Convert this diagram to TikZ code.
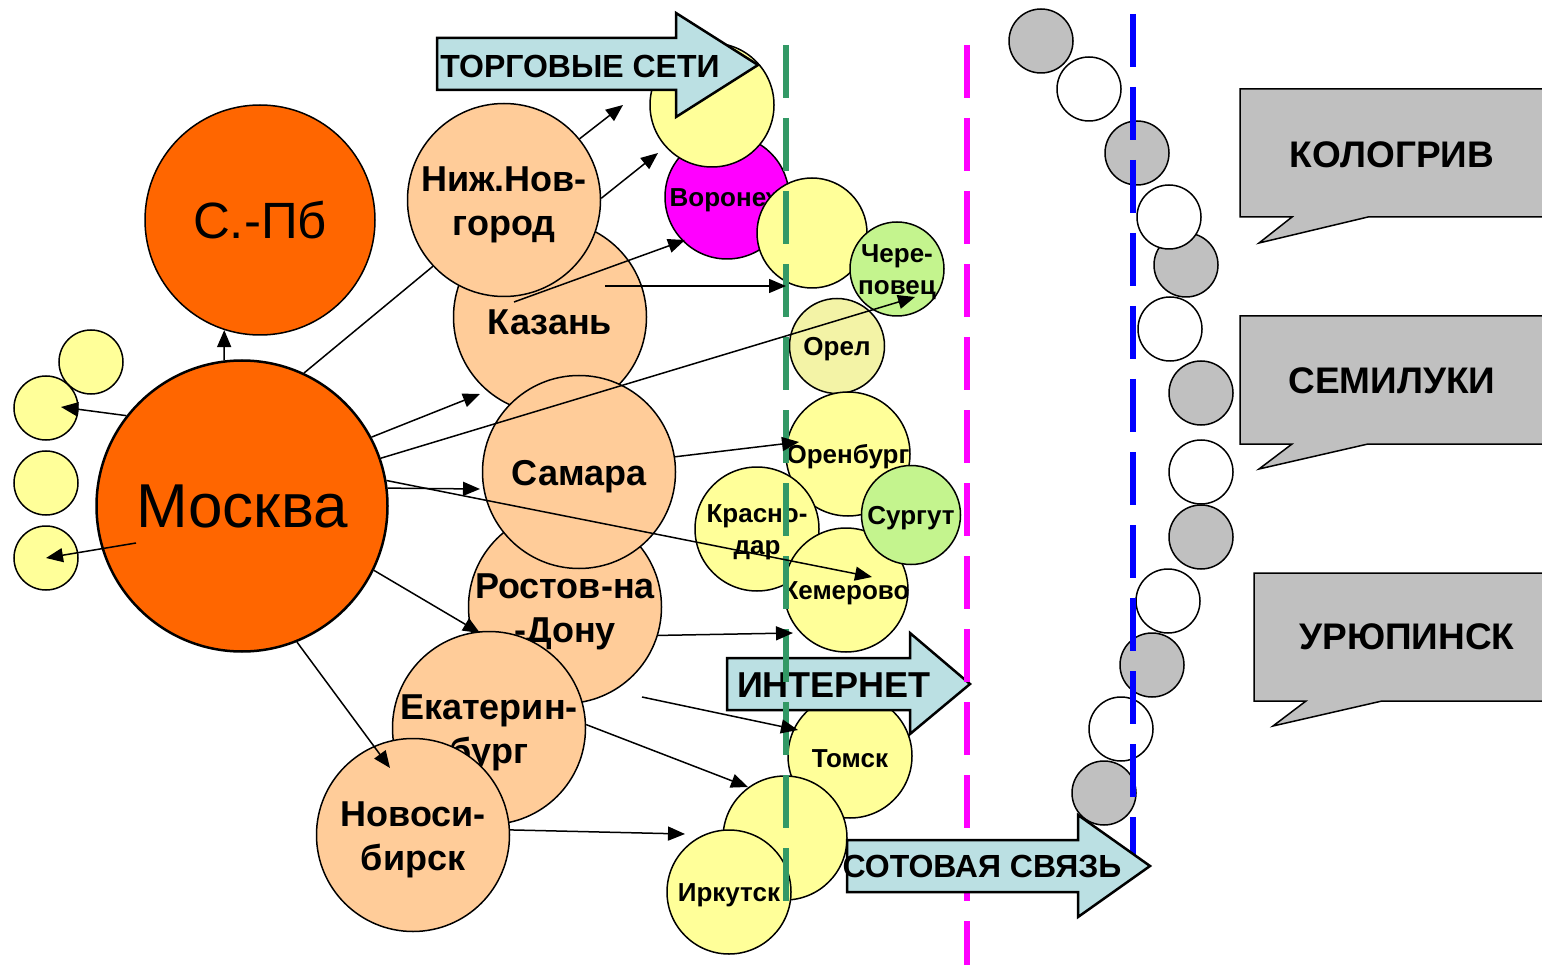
\documentclass[tikz,border=0pt]{standalone}
\usepackage{fontspec}
\setmainfont{Liberation Sans}
\usetikzlibrary{arrows.meta}

\definecolor{orng}{HTML}{FF6600}
\definecolor{peach}{HTML}{FFCC99}
\definecolor{lemon}{HTML}{FFFF99}
\definecolor{paleyel}{HTML}{F3F3A6}
\definecolor{lgrn}{HTML}{C4F48E}
\definecolor{mgnt}{HTML}{FF00FF}
\definecolor{dgrn}{HTML}{339966}
\definecolor{callgray}{HTML}{C0C0C0}
\definecolor{aqua}{HTML}{BBE0E3}

\begin{document}
\begin{tikzpicture}[x=1pt, y=-1pt,
    town/.style={draw, circle, line width=1.5pt, inner sep=0pt},
    bigtown/.style={town, fill=peach, minimum size=193pt},
    smalltown/.style={town, fill=lemon, minimum size=124pt},
    dot/.style={town, minimum size=64pt},
    bigtxt/.style={font=\fontsize{36}{44}\selectfont\bfseries, align=center, inner sep=0pt, yshift=-5pt},
    smalltxt/.style={font=\fontsize{26}{32}\selectfont\bfseries, align=center, inner sep=0pt, yshift=-3pt},
    conn/.style={line width=1.5pt, -{Triangle[length=17pt, width=14pt]}},
    band/.style={draw, line width=2.5pt, fill=aqua},
    callout/.style={draw, line width=1.5pt, fill=callgray},
    level/.style={line width=6pt, dash pattern=on 53pt off 20pt}]
  \useasboundingbox (0, 0) rectangle (1542, 965);

  % capitals
  \node [town, fill=orng, minimum size=230pt, label={[font=\fontsize{51}{60}\selectfont]center:С.-Пб}] (spb) at (260, 220) {};
  \node [town, fill=orng, line width=2.5pt, minimum size=291pt, label={[font=\fontsize{62}{72}\selectfont]center:Москва}] (msk) at (242, 506) {};
  \node [dot, fill=lemon] (y1) at (91, 362) {};
  \node [dot, fill=lemon] (y2) at (46, 408) {};
  \node [dot, fill=lemon] (y3) at (46, 483) {};
  \node [dot, fill=lemon] (y4) at (46, 558) {};

  % regional centres
  \node [bigtown, label={[bigtxt]center:Казань}] (kaz) at (550, 317) {};
  \node [bigtown, label={[bigtxt]center:Ниж.Нов-\\город}] (nn) at (504, 200) {};
  \node [bigtown, label={[bigtxt]center:Ростов-на\\-Дону}] (rst) at (565, 607) {};
  \node [bigtown, label={[bigtxt]center:Самара}] (sam) at (579, 472) {};
  \node [bigtown, label={[bigtxt]center:Екатерин-\\бург}] (ekb) at (489, 728) {};
  \node [bigtown, label={[bigtxt]center:Новоси-\\бирск}] (nsk) at (413, 835) {};

  % towns
  \node [town, fill=mgnt, minimum size=124pt, label={[smalltxt]center:Воронеж}] (vrn) at (727, 197) {};
  \node [smalltown] (trd) at (712, 105) {};
  \node [town, fill=lemon, minimum size=110pt] (y5) at (812, 233) {};
  \node [town, fill=paleyel, minimum size=95pt, label={[smalltxt]center:Орел}] (orl) at (837, 346) {};
  \node [town, fill=lgrn, minimum size=94pt, label={[smalltxt]center:Чере-\\повец}] (chr) at (897, 269) {};
  \node [smalltown, label={[smalltxt]center:Оренбург}] (orb) at (848, 454) {};
  \node [smalltown, label={[smalltxt]center:Красно-\\дар}] (krd) at (757, 529) {};
  \node [smalltown, label={[smalltxt]center:Кемерово}] (kem) at (846, 590) {};
  \node [town, fill=lgrn, minimum size=99pt, label={[smalltxt]center:Сургут}] (srg) at (911, 515) {};
  \node [smalltown, label={[smalltxt]center:Томск}] (tms) at (850, 756) {};
  \node [smalltown] (y6) at (785, 838) {};
  \node [smalltown, label={[smalltxt]center:Иркутск}] (irk) at (729, 892) {};

  % channels
  \draw [band] (437, 38) -- (676, 38) -- (676, 13) -- (758, 65) -- (676, 117) -- (676, 90) -- (437, 90) -- cycle;
  \node [font=\fontsize{32}{36}\selectfont\bfseries] (trade) at (580, 66) {ТОРГОВЫЕ СЕТИ};
  \draw [band] (727, 658) -- (910, 658) -- (910, 633) -- (970, 684) -- (910, 734) -- (910, 710) -- (727, 710) -- cycle;
  \node [font=\fontsize{36}{40}\selectfont\bfseries] (web) at (834, 685) {ИНТЕРНЕТ};

  % small towns
  \node [dot, fill=callgray] (g1) at (1041, 41) {};
  \node [dot, fill=white] (w1) at (1089, 89) {};
  \node [dot, fill=callgray] (g2) at (1137, 153) {};
  \node [dot, fill=callgray] (g3) at (1186, 265) {};
  \node [dot, fill=white] (w2) at (1169, 217) {};
  \node [dot, fill=white] (w3) at (1170, 329) {};
  \node [dot, fill=callgray] (g4) at (1201, 393) {};
  \node [dot, fill=white] (w4) at (1201, 472) {};
  \node [dot, fill=callgray] (g5) at (1201, 537) {};
  \node [dot, fill=white] (w5) at (1168, 601) {};
  \node [dot, fill=callgray] (g6) at (1152, 665) {};
  \node [dot, fill=white] (w6) at (1121, 729) {};
  \node [dot, fill=callgray] (g7) at (1104, 793) {};

  % borders
  \draw [level, dgrn] (786, 45) -- (786, 901);
  \draw [level, mgnt] (967, 45) -- (967, 965);
  \draw [level, blue] (1133, 14) -- (1133, 870);

  \draw [band] (847, 840) -- (1078, 840) -- (1078, 815) -- (1150, 866) -- (1078, 917) -- (1078, 892) -- (847, 892) -- cycle;
  \node [font=\fontsize{32}{36}\selectfont\bfseries] (cell) at (982, 866) {СОТОВАЯ СВЯЗЬ};

  % callouts
  \draw [callout] (1240, 89) -- (1546, 89) -- (1546, 217) -- (1368, 217) -- (1259, 243) -- (1292, 217) -- (1240, 217) -- cycle;
  \node [font=\fontsize{37}{42}\selectfont\bfseries] (klg) at (1392, 155) {КОЛОГРИВ};
  \draw [callout] (1240, 316) -- (1546, 316) -- (1546, 444) -- (1368, 444) -- (1259, 469) -- (1292, 444) -- (1240, 444) -- cycle;
  \node [font=\fontsize{37}{42}\selectfont\bfseries] (sml) at (1392, 381) {СЕМИЛУКИ};
  \draw [callout] (1254, 573) -- (1546, 573) -- (1546, 701) -- (1382, 701) -- (1273, 726) -- (1306, 701) -- (1254, 701) -- cycle;
  \node [font=\fontsize{37}{42}\selectfont\bfseries] (urp) at (1407, 637) {УРЮПИНСК};

  % connector ends
  \coordinate (sC) at (136, 543);
  \coordinate (sM) at (514, 302);
  \coordinate (sN) at (605, 286);
  \coordinate (sQ) at (642, 697);
  \coordinate (tB) at (61, 407);
  \coordinate (tE) at (480, 394);
  \coordinate (tF) at (915, 297);
  \coordinate (tG) at (480, 489);
  \coordinate (tH) at (872, 577);
  \coordinate (tI) at (480, 633);
  \coordinate (tJ) at (390, 768);
  \coordinate (tK) at (623, 105);
  \coordinate (tL) at (658, 153);
  \coordinate (tM) at (685, 240);
  \coordinate (tN) at (786, 286);
  \coordinate (tO) at (799, 442);
  \coordinate (tP) at (793, 633);
  \coordinate (tQ) at (798, 730);
  \coordinate (tR) at (748, 787);
  \coordinate (tS) at (685, 834);

  \draw [conn] (msk.97) -- (spb.252);
  \draw [conn] (msk.142) -- (tB);
  \draw [conn] (sC) -- (y4.center);
  \draw [line width=1.5pt] (msk.65) -- (nn.223);
  \draw [conn] (msk.28) -- (tE);
  \draw [conn] (msk.19) -- (tF);
  \draw [conn] (msk.7) -- (tG);
  \draw [conn] (msk.10) -- (tH);
  \draw [conn] (msk.-26) -- (tI);
  \draw [conn] (msk.-68) -- (tJ);
  \draw [conn] (nn.39) -- (tK);
  \draw [conn] (nn.1) -- (tL);
  \draw [conn] (sM) -- (tM);
  \draw [conn] (sN) -- (tN);
  \draw [conn] (sam.9) -- (tO);
  \draw [conn] (rst.-17) -- (tP);
  \draw [conn] (sQ) -- (tQ);
  \draw [conn] (ekb.2) -- (tR);
  \draw [conn] (nsk.3) -- (tS);
\end{tikzpicture}
\end{document}
